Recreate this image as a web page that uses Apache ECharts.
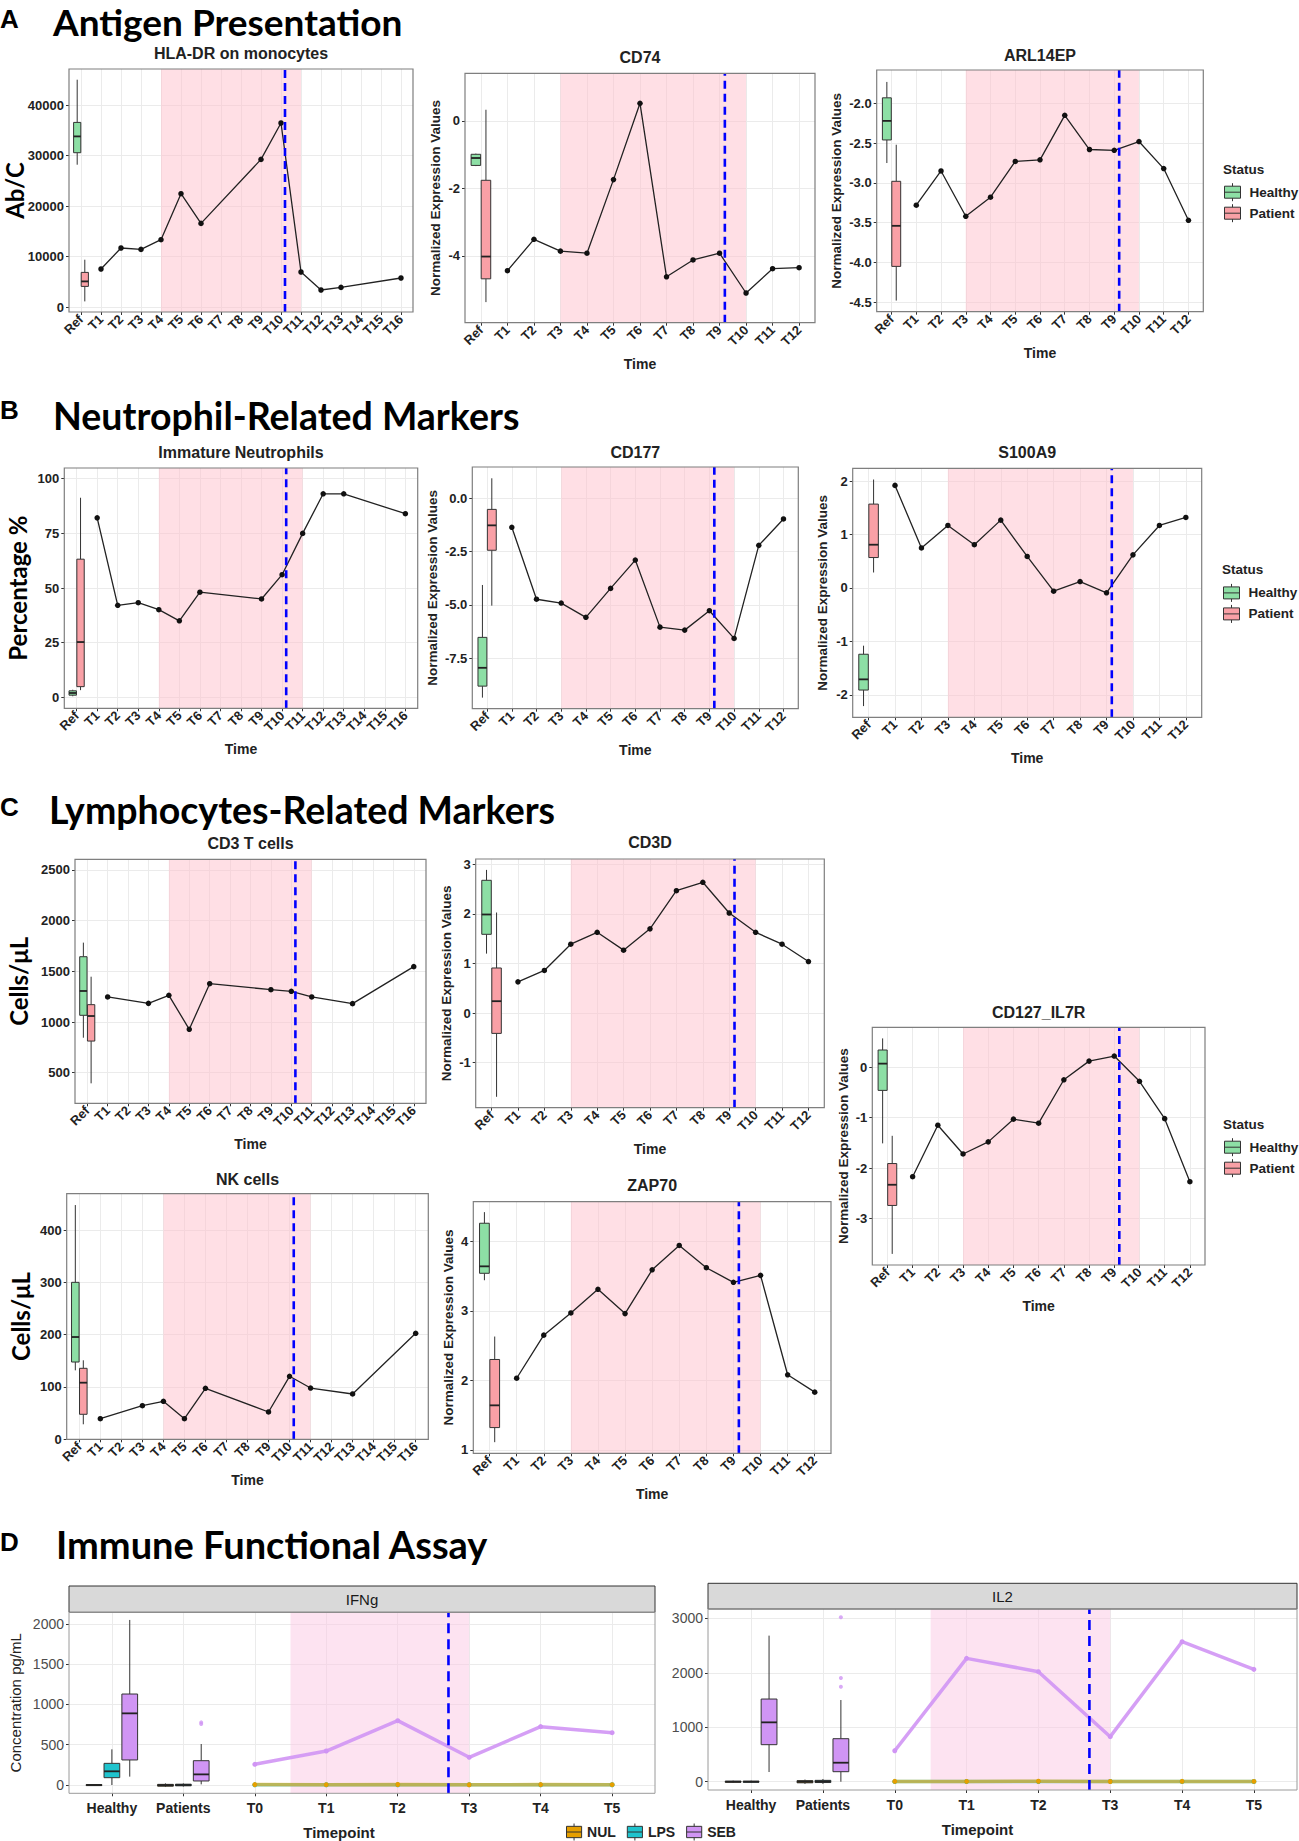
<!DOCTYPE html>
<html>
<head>
<meta charset="utf-8">
<title>Immune monitoring panels</title>
<script src="https://cdn.jsdelivr.net/npm/echarts@6.0.0/dist/echarts.min.js"></script>
<style>
html,body{margin:0;padding:0;background:#ffffff;}
#chart{width:1299px;height:1841px;}
</style>
</head>
<body>
<div id="chart"></div>
<script>
// ---------------- categories / tick labels ----------------
const TIME16 = ['Ref','T1','T2','T3','T4','T5','T6','T7','T8','T9','T10','T11','T12','T13','T14','T15','T16'];
const TIME12 = ['Ref','T1','T2','T3','T4','T5','T6','T7','T8','T9','T10','T11','T12'];
const ASSAY_CATS = ['Healthy','Patients','T0','T1','T2','T3','T4','T5'];

// shaded treatment window (category index units) and dashed event line
const SHADE16 = [4, 11];  const VLINE16 = 10.2;
const SHADE12 = [3, 10];  const VLINE12 = 9.2;
const SHADE_ASSAY = [2.5, 5]; const VLINE_ASSAY = 4.71;

// ---------------- A: Antigen presentation ----------------
const hladrValues  = [null,7525,11683,11406,13327,22436,16555,null,null,29228,36436,6931,3366,3881,null,null,5743];
const hladrHealthy = [28178,30554,33782,36554,45010];   // min, Q1, median, Q3, max
const hladrPatient = [1109,4079,5069,6852,9366];
const hladrTicks   = [0,10000,20000,30000,40000];

const cd74Values  = [null,-4.44,-3.51,-3.86,-3.92,-1.74,0.52,-4.62,-4.12,-3.92,-5.10,-4.38,-4.35];
const cd74Healthy = [-1.34,-1.32,-1.10,-0.99,-0.97];
const cd74Patient = [-5.37,-4.68,-4.02,-1.76,0.33];
const cd74Ticks   = [-4,-2,0];

const arlValues  = [null,-3.28,-2.85,-3.42,-3.18,-2.73,-2.71,-2.15,-2.58,-2.59,-2.48,-2.82,-3.47];
const arlHealthy = [-2.75,-2.46,-2.22,-1.93,-1.73];
const arlPatient = [-4.48,-4.05,-3.54,-2.98,-2.52];
const arlTicks   = [-4.5,-4.0,-3.5,-3.0,-2.5,-2.0];

// ---------------- B: Neutrophil-related ----------------
const immNeutValues  = [null,82.1,42.1,43.3,40.1,35.0,48.1,null,null,45.0,56.1,75.0,93.1,93.1,null,null,84.0];
const immNeutHealthy = [0.5,1.0,2.0,3.0,3.5];
const immNeutPatient = [3.3,4.9,25.3,63.2,91.3];
const immNeutTicks   = [0,25,50,75,100];

const cd177Values  = [null,-1.36,-4.74,-4.92,-5.59,-4.23,-2.90,-6.05,-6.19,-5.28,-6.58,-2.21,-0.97];
const cd177Healthy = [-9.36,-8.82,-7.96,-6.53,-4.07];
const cd177Patient = [-5.04,-2.44,-1.27,-0.52,0.94];
const cd177Ticks   = [-7.5,-5.0,-2.5,0.0];

const s100a9Values  = [null,1.92,0.75,1.17,0.81,1.27,0.59,-0.06,0.12,-0.09,0.62,1.17,1.32];
const s100a9Healthy = [-2.21,-1.91,-1.71,-1.24,-1.08];
const s100a9Patient = [0.29,0.57,0.81,1.57,2.03];
const s100a9Ticks   = [-2,-1,0,1,2];

// ---------------- C: Lymphocyte-related ----------------
const cd3Values  = [null,1247,null,1184,1263,928,1378,null,null,1319,1303,1247,null,1181,null,null,1546];
const cd3Healthy = [845,1066,1306,1644,1783];
const cd3Patient = [395,812,1059,1171,1447];
const cd3Ticks   = [500,1000,1500,2000,2500];

const cd3dValues  = [null,0.63,0.86,1.39,1.63,1.27,1.70,2.47,2.64,2.02,1.63,1.39,1.04];
const cd3dHealthy = [1.20,1.59,1.99,2.68,2.89];
const cd3dPatient = [-1.69,-0.41,0.24,0.91,2.03];
const cd3dTicks   = [-1,0,1,2,3];

const il7rValues  = [null,-2.17,-1.15,-1.72,-1.48,-1.03,-1.11,-0.25,0.12,0.22,-0.28,-1.02,-2.27];
const il7rHealthy = [-1.51,-0.46,0.07,0.34,0.57];
const il7rPatient = [-3.70,-2.74,-2.33,-1.91,-1.36];
const il7rTicks   = [-3,-2,-1,0];

const nkValues  = [null,39.4,null,64.2,72.6,39.4,97.5,null,null,52.2,120.4,98.0,null,86.6,null,null,202.6];
const nkHealthy = [131.8,147.7,195.5,300.0,447.7];
const nkPatient = [28.7,47.8,108.2,135.7,151.0];
const nkTicks   = [0,100,200,300,400];

const zap70Values  = [null,2.03,2.65,2.97,3.31,2.96,3.59,3.94,3.62,3.41,3.51,2.08,1.83];
const zap70Healthy = [3.44,3.54,3.64,4.26,4.42];
const zap70Patient = [1.11,1.32,1.64,2.30,2.63];
const zap70Ticks   = [1,2,3,4];

// ---------------- D: Immune functional assay ----------------
// boxes: [Healthy, Patients] each min,Q1,median,Q3,max
const ifnNULBox = [[-10,-5,0,5,10],[-25,-15,-2,8,20]];
const ifnLPSBox = [[0,91,170,269,443],[-20,-10,0,10,20]];
const ifnSEBBox = [[104,311,890,1130,2050],[8,50,132,302,509]];
const ifnSEBOutliers = [778,758];
const ifnNUL = [5,4,6,3,5,4];          // T0..T5
const ifnLPS = [2,3,2,4,2,3];
const ifnSEB = [257,422,799,344,725,650];
const ifnTicks = [0,500,1000,1500,2000];

const il2NULBox = [[-20,-10,0,10,20],[-40,-20,0,20,40]];
const il2LPSBox = [[-20,-10,0,10,20],[-40,-15,5,25,50]];
const il2SEBBox = [[178,680,1090,1518,2682],[0,184,349,790,1500]];
const il2SEBOutliers = [3018,1904,1745];
const il2NUL = [6,5,8,4,6,5];
const il2LPS = [3,4,3,5,3,4];
const il2SEB = [569,2265,2020,827,2571,2063];
const il2Ticks = [0,1000,2000,3000];

// ---------------- styling / layout ----------------
const FONT = '"Liberation Sans", Arial, sans-serif';
const CAL = 'Lato, "Open Sans", sans-serif';
const PINK = 'rgba(255,192,203,0.5)';
const DPINK = 'rgba(252,200,228,0.5)';
const GREEN = '#8ddfa5';
const RED = '#f9a0a6';
const COL_NUL = '#e69f00', COL_LPS = '#1fc3cd', COL_SEB = '#d095f4';
const BOXICON = 'path://M8,0L8,3M0,3L16,3L16,15L0,15ZM0,9L16,9M8,15L8,18';

const PANELS = [
  {cats:TIME16, values:hladrValues, healthy:hladrHealthy, patient:hladrPatient, ticks:hladrTicks, dec:0,
   title:'HLA-DR on monocytes', yName:'Ab/C', big:true, xName:'', shade:SHADE16, vline:VLINE16,
   range:[-990,47130], grid:[69,69,344,243], titleY:53, nameGap:43, noMove:true},
  {cats:TIME12, values:cd74Values, healthy:cd74Healthy, patient:cd74Patient, ticks:cd74Ticks, dec:0,
   title:'CD74', yName:'Normalized Expression Values', big:false, xName:'Time', shade:SHADE12, vline:VLINE12,
   range:[-5.98,1.41], grid:[465,73.3,350,249.4], titleY:57, nameGap:23},
  {cats:TIME12, values:arlValues, healthy:arlHealthy, patient:arlPatient, ticks:arlTicks, dec:1,
   title:'ARL14EP', yName:'Normalized Expression Values', big:false, xName:'Time', shade:SHADE12, vline:VLINE12,
   range:[-4.62,-1.58], grid:[876.7,70,326.6,241.7], titleY:55, nameGap:33},
  {cats:TIME16, values:immNeutValues, healthy:immNeutHealthy, patient:immNeutPatient, ticks:immNeutTicks, dec:0,
   title:'Immature Neutrophils', yName:'Percentage %', big:true, xName:'Time', shade:SHADE16, vline:VLINE16,
   range:[-5,104.9], grid:[64.3,468,353.4,240.3], titleY:452.7, nameGap:35},
  {cats:TIME12, values:cd177Values, healthy:cd177Healthy, patient:cd177Patient, ticks:cd177Ticks, dec:1,
   title:'CD177', yName:'Normalized Expression Values', big:false, xName:'Time', shade:SHADE12, vline:VLINE12,
   range:[-9.88,1.47], grid:[472.3,467,326,241.7], titleY:452.3, nameGap:33},
  {cats:TIME12, values:s100a9Values, healthy:s100a9Healthy, patient:s100a9Patient, ticks:s100a9Ticks, dec:0,
   title:'S100A9', yName:'Normalized Expression Values', big:false, xName:'Time', shade:SHADE12, vline:VLINE12,
   range:[-2.42,2.24], grid:[852.7,468.3,349,249], titleY:452.3, nameGap:23},
  {cats:TIME16, values:cd3Values, healthy:cd3Healthy, patient:cd3Patient, ticks:cd3Ticks, dec:0,
   title:'CD3 T cells', yName:'Cells/\u03bcL', big:true, xName:'Time', shade:SHADE16, vline:VLINE16,
   range:[198,2605], grid:[75,859.3,351,244], titleY:843.3, nameGap:45},
  {cats:TIME12, values:cd3dValues, healthy:cd3dHealthy, patient:cd3dPatient, ticks:cd3dTicks, dec:0,
   title:'CD3D', yName:'Normalized Expression Values', big:false, xName:'Time', shade:SHADE12, vline:VLINE12,
   range:[-1.91,3.11], grid:[475.7,859,348.6,248.7], titleY:842.7, nameGap:22},
  {cats:TIME12, values:il7rValues, healthy:il7rHealthy, patient:il7rPatient, ticks:il7rTicks, dec:0,
   title:'CD127_IL7R', yName:'Normalized Expression Values', big:false, xName:'Time', shade:SHADE12, vline:VLINE12,
   range:[-3.92,0.79], grid:[872.3,1027.3,332.7,237.7], titleY:1012.7, nameGap:22},
  {cats:TIME16, values:nkValues, healthy:nkHealthy, patient:nkPatient, ticks:nkTicks, dec:0,
   title:'NK cells', yName:'Cells/\u03bcL', big:true, xName:'Time', shade:SHADE16, vline:VLINE16,
   range:[0,469.4], grid:[66.7,1193.7,361.6,245.6], titleY:1179, nameGap:34},
  {cats:TIME12, values:zap70Values, healthy:zap70Healthy, patient:zap70Patient, ticks:zap70Ticks, dec:0,
   title:'ZAP70', yName:'Normalized Expression Values', big:false, xName:'Time', shade:SHADE12, vline:VLINE12,
   range:[0.95,4.57], grid:[473.3,1201.7,357.7,251.6], titleY:1185, nameGap:18}
];

const ASSAYS = [
  {strip:'IFNg', nul:ifnNUL, lps:ifnLPS, seb:ifnSEB, nulBox:ifnNULBox, lpsBox:ifnLPSBox, sebBox:ifnSEBBox,
   outliers:ifnSEBOutliers, ticks:ifnTicks, range:[-103,2145], grid:[69,1612.3,586,181], stripTop:1586,
   yName:'Concentration pg/mL', namePad:46, nameGap:32},
  {strip:'IL2', nul:il2NUL, lps:il2LPS, seb:il2SEB, nulBox:il2NULBox, lpsBox:il2LPSBox, sebBox:il2SEBBox,
   outliers:il2SEBOutliers, ticks:il2Ticks, range:[-152,3171], grid:[708,1609,589,181], stripTop:1583.3,
   yName:'', namePad:50, nameGap:32}
];

// ---------------- builders ----------------
const grids = [], xAxes = [], yAxes = [], series = [], graphics = [];
const onTick = (ticks, v) => ticks.some(t => Math.abs(t - v) < 1e-6);

function boxSeries(name, gi, data, offset, wFrac, fill, z) {
  return {
    type:'custom', name:name, xAxisIndex:gi, yAxisIndex:gi, data:data, z:z || 3, silent:true,
    encode:{x:0, y:[1,2,3,4,5]},
    itemStyle:{color:fill, borderColor:'#333', borderWidth:1},
    renderItem:function (params, api) {
      const x = api.value(0);
      const unit = api.size([1, 0])[0];
      const cx = api.coord([x, api.value(3)])[0] + offset * unit;
      const hw = wFrac * unit / 2;
      const y = [1,2,3,4,5].map(d => api.coord([x, api.value(d)])[1]);
      const st = {stroke:'#333', lineWidth:1};
      return {type:'group', children:[
        {type:'line', shape:{x1:cx, y1:y[0], x2:cx, y2:y[1]}, style:st},
        {type:'line', shape:{x1:cx, y1:y[3], x2:cx, y2:y[4]}, style:st},
        {type:'rect', shape:{x:cx - hw, y:y[3], width:2 * hw, height:Math.max(y[1] - y[3], 1)},
         style:{fill:fill, stroke:'#333', lineWidth:1}},
        {type:'line', shape:{x1:cx - hw, y1:y[2], x2:cx + hw, y2:y[2]}, style:{stroke:'#222', lineWidth:1.8}}
      ]};
    }
  };
}

function valueXAxis(gi, cats, labelOpt, name, nameOpt, gap) {
  const n = cats.length;
  return Object.assign({
    type:'value', gridIndex:gi, min:-0.6, max:n - 0.4, minInterval:1, maxInterval:1,
    axisLine:{show:false, onZero:false},
    axisTick:{show:true, length:3, lineStyle:{color:'#333'}, customValues:cats.map((c, k) => k)},
    axisLabel:Object.assign({
      formatter:function (v) { const k = Math.round(v); return (Math.abs(v - k) < 1e-6 && cats[k] !== undefined) ? cats[k] : ''; }
    }, labelOpt),
    splitLine:{show:true, lineStyle:{color:'#ebebeb', width:1}},
    name:name, nameLocation:'middle', nameGap:gap
  }, nameOpt);
}

function valueYAxis(gi, p, labelOpt, nameStyle) {
  const step = p.ticks[1] - p.ticks[0];
  const ax = {
    type:'value', gridIndex:gi, min:p.range[0], max:p.range[1], minInterval:step, maxInterval:step,
    axisLine:{show:false, onZero:false},
    axisTick:{show:true, length:3, lineStyle:{color:'#333'}, customValues:p.ticks},
    axisLabel:Object.assign({
      formatter:function (v) { return onTick(p.ticks, v) ? v.toFixed(p.dec || 0) : ''; }
    }, labelOpt),
    splitLine:{show:true, lineStyle:{color:'#ebebeb', width:1}},
    name:p.yName, nameLocation:'middle', nameGap:p.nameGap, nameRotate:90, nameTextStyle:nameStyle
  };
  if (p.noMove) ax.nameMoveOverlap = false;
  return ax;
}

PANELS.forEach(function (p, i) {
  const [L, T, W, H] = p.grid;
  grids.push({left:L, top:T, width:W, height:H, outerBoundsMode:'none', containLabel:false});
  xAxes.push(valueXAxis(i, p.cats,
    {rotate:45, margin:5, fontFamily:FONT, fontWeight:'bold', fontSize:13, color:'#222'},
    p.xName, {nameTextStyle:{fontFamily:FONT, fontWeight:'bold', fontSize:14, color:'#222'}}, 34));
  yAxes.push(valueYAxis(i, p,
    {margin:5, fontFamily:FONT, fontWeight:'bold', fontSize:13, color:'#222'},
    p.big ? {fontFamily:CAL, fontWeight:'bold', fontSize:24, color:'#000'}
          : {fontFamily:FONT, fontWeight:'bold', fontSize:13.5, color:'#222'}));
  series.push({type:'line', name:'window', xAxisIndex:i, yAxisIndex:i, data:[], silent:true, z:1,
    markArea:{silent:true, itemStyle:{color:PINK}, data:[[{xAxis:p.shade[0]}, {xAxis:p.shade[1]}]]}});
  series.push(boxSeries('Healthy', i, [[0].concat(p.healthy)], -0.19, 0.36, GREEN));
  series.push(boxSeries('Patient', i, [[0].concat(p.patient)], 0.19, 0.36, RED));
  series.push({type:'line', name:'value', xAxisIndex:i, yAxisIndex:i, silent:true, z:4,
    data:p.values.map((v, k) => v == null ? null : [k, v]).filter(Boolean),
    symbol:'circle', symbolSize:5.5, showSymbol:true, itemStyle:{color:'#111'},
    lineStyle:{color:'#222', width:1.3}});
  series.push({type:'line', name:'event', xAxisIndex:i, yAxisIndex:i, silent:true, z:5,
    data:[[p.vline, p.range[0]], [p.vline, p.range[1]]], symbol:'none',
    lineStyle:{color:'#0000ff', width:2.6, type:[8,5]}});
  graphics.push({type:'text', silent:true, z:100, x:L + W / 2, y:p.titleY,
    style:{text:p.title, fill:'#222', fontFamily:FONT, fontWeight:'bold', fontSize:16, align:'center', verticalAlign:'middle'}});
  graphics.push({type:'rect', silent:true, z:100, shape:{x:L, y:T, width:W, height:H},
    style:{fill:'none', stroke:'#7f7f7f', lineWidth:1.2}});
});

const DOFF = {NUL:-0.25, LPS:0, SEB:0.25};
ASSAYS.forEach(function (d, j) {
  const i = PANELS.length + j;
  const [L, T, W, H] = d.grid;
  grids.push({left:L, top:T, width:W, height:H, outerBoundsMode:'none', containLabel:false});
  xAxes.push(valueXAxis(i, ASSAY_CATS,
    {margin:8, fontFamily:FONT, fontWeight:'bold', fontSize:14, color:'#222'},
    'Timepoint', {nameTextStyle:{fontFamily:FONT, fontWeight:'bold', fontSize:15, color:'#222', padding:[0, d.namePad, 0, 0]}}, d.nameGap));
  yAxes.push(valueYAxis(i, {ticks:d.ticks, range:d.range, dec:0, yName:d.yName, nameGap:46},
    {margin:5, fontFamily:FONT, fontSize:14, color:'#4d4d4d'},
    {fontFamily:FONT, fontSize:15, color:'#222'}));
  series.push({type:'line', name:'window', xAxisIndex:i, yAxisIndex:i, data:[], silent:true, z:1,
    markArea:{silent:true, itemStyle:{color:DPINK}, data:[[{xAxis:SHADE_ASSAY[0]}, {xAxis:SHADE_ASSAY[1]}]]}});
  const boxData = arr => arr.map((b, k) => [k].concat(b));
  series.push(boxSeries('NUL', i, boxData(d.nulBox), DOFF.NUL, 0.22, COL_NUL));
  series.push(boxSeries('LPS', i, boxData(d.lpsBox), DOFF.LPS, 0.22, COL_LPS));
  series.push(boxSeries('SEB', i, boxData(d.sebBox), DOFF.SEB, 0.22, COL_SEB));
  series.push({type:'scatter', name:'SEB', xAxisIndex:i, yAxisIndex:i, silent:true, z:4,
    data:d.outliers.map(v => [1 + DOFF.SEB, v]), symbolSize:4,
    itemStyle:{color:COL_SEB, opacity:0.8}});
  const tl = arr => arr.map((v, k) => [k + 2, v]);
  series.push({type:'line', name:'LPS', xAxisIndex:i, yAxisIndex:i, silent:true, z:4, data:tl(d.lps),
    symbol:'circle', symbolSize:5, itemStyle:{color:COL_LPS}, lineStyle:{color:COL_LPS, width:3.5, opacity:0.6}});
  series.push({type:'line', name:'NUL', xAxisIndex:i, yAxisIndex:i, silent:true, z:4, data:tl(d.nul),
    symbol:'circle', symbolSize:5, itemStyle:{color:COL_NUL}, lineStyle:{color:COL_NUL, width:3.5, opacity:0.6}});
  series.push({type:'line', name:'SEB', xAxisIndex:i, yAxisIndex:i, silent:true, z:4, data:tl(d.seb),
    symbol:'circle', symbolSize:5, itemStyle:{color:COL_SEB}, lineStyle:{color:COL_SEB, width:3.5, opacity:0.9}});
  series.push({type:'line', name:'event', xAxisIndex:i, yAxisIndex:i, silent:true, z:5,
    data:[[VLINE_ASSAY, d.range[0]], [VLINE_ASSAY, d.range[1]]], symbol:'none',
    lineStyle:{color:'#0000ff', width:2.6, type:[10,6]}});
  graphics.push({type:'rect', silent:true, z:100, shape:{x:L, y:d.stripTop, width:W, height:T - d.stripTop},
    style:{fill:'#d9d9d9', stroke:'#333', lineWidth:1}});
  graphics.push({type:'text', silent:true, z:101, x:L + W / 2, y:(d.stripTop + T) / 2,
    style:{text:d.strip, fill:'#1a1a1a', fontFamily:FONT, fontSize:15, align:'center', verticalAlign:'middle'}});
  graphics.push({type:'rect', silent:true, z:100, shape:{x:L, y:T, width:W, height:H},
    style:{fill:'none', stroke:'#9a9a9a', lineWidth:1}});
});

// section headings
const HEADINGS = [
  {letter:'A', text:'Antigen Presentation', ly:19, tx:53, ty:21, size:37},
  {letter:'B', text:'Neutrophil-Related Markers', ly:410, tx:53, ty:415, size:37.5},
  {letter:'C', text:'Lymphocytes-Related Markers', ly:807, tx:49, ty:809, size:37.5},
  {letter:'D', text:'Immune Functional Assay', ly:1542, tx:56, ty:1544, size:38}
];
HEADINGS.forEach(function (h) {
  graphics.push({type:'text', silent:true, z:100, x:0, y:h.ly,
    style:{text:h.letter, fill:'#000', fontFamily:FONT, fontWeight:'bold', fontSize:26, align:'left', verticalAlign:'middle'}});
  graphics.push({type:'text', silent:true, z:100, x:h.tx, y:h.ty,
    style:{text:h.text, fill:'#000', fontFamily:CAL, fontWeight:'bold', fontSize:h.size, align:'left', verticalAlign:'middle'}});
});

// Status legends
const STATUS_POS = [{x:1223, y:169}, {x:1222, y:569.7}, {x:1223, y:1124}];
const legends = [];
STATUS_POS.forEach(function (s) {
  graphics.push({type:'text', silent:true, z:100, x:s.x, y:s.y,
    style:{text:'Status', fill:'#222', fontFamily:FONT, fontWeight:'bold', fontSize:13.5, align:'left', verticalAlign:'middle'}});
  legends.push({orient:'vertical', left:s.x + 1, top:s.y + 13.7, itemWidth:16, itemHeight:18, itemGap:2, padding:0,
    selectedMode:false, itemStyle:{borderColor:'#333', borderWidth:1},
    data:[{name:'Healthy', icon:BOXICON}, {name:'Patient', icon:BOXICON}],
    textStyle:{fontFamily:FONT, fontWeight:'bold', fontSize:13.5, color:'#222', padding:[0,0,0,4]}});
});
legends.push({orient:'horizontal', left:566, top:1823, itemWidth:16, itemHeight:17, itemGap:11, padding:0,
  selectedMode:false, itemStyle:{borderColor:'#333', borderWidth:1},
  data:[{name:'NUL', icon:BOXICON}, {name:'LPS', icon:BOXICON}, {name:'SEB', icon:BOXICON}],
  textStyle:{fontFamily:FONT, fontWeight:'bold', fontSize:14, color:'#222'}});

const chart = echarts.init(document.getElementById('chart'), null, {renderer:'svg', width:1299, height:1841});
chart.setOption({
  animation:false,
  backgroundColor:'#ffffff',
  grid:grids, xAxis:xAxes, yAxis:yAxes, series:series, legend:legends,
  graphic:{elements:graphics}
});
</script>
</body>
</html>
